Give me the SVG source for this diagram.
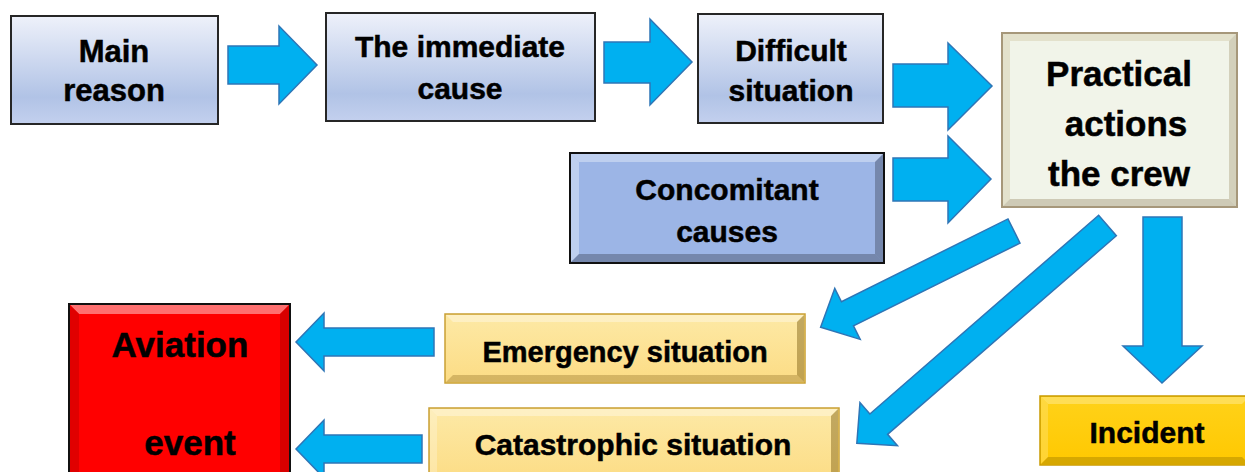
<svg xmlns="http://www.w3.org/2000/svg" width="1245" height="472" viewBox="0 0 1245 472">
  <defs>
    <linearGradient id="gBlue" x1="0" y1="0" x2="0" y2="1">
      <stop offset="0" stop-color="#eef1fa"/>
      <stop offset="0.75" stop-color="#b1c3e6"/>
      <stop offset="1" stop-color="#c3d0ee"/>
    </linearGradient>
    <linearGradient id="gGold" x1="0" y1="0" x2="0" y2="1">
      <stop offset="0" stop-color="#fde9a6"/>
      <stop offset="1" stop-color="#fcdc84"/>
    </linearGradient>
    <linearGradient id="gYellow" x1="0" y1="0" x2="0" y2="1">
      <stop offset="0" stop-color="#ffd21a"/>
      <stop offset="1" stop-color="#ffc800"/>
    </linearGradient>
  </defs>
  <style>
    .t { font-family: "Liberation Sans", Arial, sans-serif; font-weight: bold; fill: #000; stroke: #000; stroke-width: 0.5; text-anchor: middle; }
    .arrow { fill: #00b0f0; stroke: #2e75b6; stroke-width: 1.5; stroke-linejoin: miter; }
    .plain { stroke: #262626; stroke-width: 2; }
    .hi { fill: #ffffff; opacity: 0.35; }
    .lo { fill: #000000; opacity: 0.25; }
  </style>

  <!-- top row: plain boxes -->
  <g id="main-reason">
    <rect x="11" y="16" width="207" height="108" fill="url(#gBlue)" class="plain"/>
    <text class="t" font-size="31" x="114" y="62">Main</text>
    <text class="t" font-size="31" x="114" y="101">reason</text>
  </g>
  <g id="immediate-cause">
    <rect x="326" y="13" width="269" height="108" fill="url(#gBlue)" class="plain"/>
    <text class="t" font-size="30" x="460" y="57">The immediate</text>
    <text class="t" font-size="30" x="460" y="99">cause</text>
  </g>
  <g id="difficult-situation">
    <rect x="698" y="14" width="185" height="109" fill="url(#gBlue)" class="plain"/>
    <text class="t" font-size="30" x="791" y="61">Difficult</text>
    <text class="t" font-size="30" x="791" y="101">situation</text>
  </g>

  <!-- bevelled boxes -->
  <g id="practical-actions">
    <rect x="1002" y="33" width="235" height="174" fill="#f1f4e9" stroke="#a6977a" stroke-width="2"/>
    <polygon fill="#c8bc98" opacity="0.35" points="1003,34 1236,34 1229,41 1010,41"/>
    <polygon fill="#c8bc98" opacity="0.35" points="1003,34 1010,41 1010,199 1003,206"/>
    <polygon fill="#9c8c68" opacity="0.35" points="1236,34 1236,206 1229,199 1229,41"/>
    <polygon fill="#9c8c68" opacity="0.4" points="1003,206 1236,206 1229,199 1010,199"/>
    <text class="t" font-size="35" x="1119" y="86">Practical</text>
    <text class="t" font-size="35" x="1126" y="136">actions</text>
    <text class="t" font-size="35" x="1119" y="186">the crew</text>
  </g>
  <g id="concomitant-causes">
    <rect x="570" y="153" width="314" height="110" fill="#9cb5e6" stroke="#111" stroke-width="2"/>
    <polygon class="hi" points="571,154 883,154 875,162 579,162"/>
    <polygon class="hi" opacity="0.2" points="571,154 579,162 579,254 571,262"/>
    <polygon class="lo" opacity="0.35" points="883,154 883,262 875,254 875,162"/>
    <polygon class="lo" opacity="0.35" points="571,262 883,262 875,254 579,254"/>
    <text class="t" font-size="30" x="727" y="200">Concomitant</text>
    <text class="t" font-size="30" x="727" y="242">causes</text>
  </g>
  <g id="aviation-event">
    <rect x="69" y="304" width="221" height="180" fill="#ff0000" stroke="#111" stroke-width="2"/>
    <polygon fill="#ff7070" points="70,305 289,305 280,314 79,314"/>
    <polygon fill="#c00000" opacity="0.6" points="289,305 289,483 280,474 280,314"/>
    <polygon fill="#e00000" points="70,305 79,314 79,474 70,483"/>
    <text class="t" font-size="35" x="180" y="357">Aviation</text>
    <text class="t" font-size="35" x="190" y="455">event</text>
  </g>
  <g id="emergency-situation">
    <rect x="445" y="314" width="360" height="69" fill="url(#gGold)" stroke="#c9a035" stroke-width="1.5"/>
    <polygon class="hi" points="446,315 804,315 797,322 453,322"/>
    <polygon fill="#7a5a10" opacity="0.45" points="804,315 804,382 797,375 797,322"/>
    <polygon fill="#7a5a10" opacity="0.3" points="446,382 804,382 797,375 453,375"/>
    <text class="t" font-size="29" x="625" y="362">Emergency situation</text>
  </g>
  <g id="catastrophic-situation">
    <rect x="429" y="408" width="410" height="75" fill="url(#gGold)" stroke="#c9a035" stroke-width="1.5"/>
    <polygon class="hi" points="430,409 838,409 831,416 437,416"/>
    <polygon fill="#ffffff" opacity="0.25" points="430,409 437,416 437,482 430,482"/>
    <polygon fill="#7a5a10" opacity="0.45" points="838,409 838,482 831,482 831,416"/>
    <text class="t" font-size="30" x="633" y="455">Catastrophic situation</text>
  </g>
  <g id="incident">
    <rect x="1040" y="396" width="210" height="69" fill="url(#gYellow)" stroke="#c99a00" stroke-width="1.5"/>
    <polygon fill="#ffe680" opacity="0.6" points="1041,397 1249,397 1242,404 1048,404"/>
    <polygon fill="#ffe066" opacity="0.5" points="1041,397 1048,404 1048,457 1041,464"/>
    <polygon fill="#8a6a00" opacity="0.35" points="1041,464 1249,464 1242,457 1048,457"/>
    <text class="t" font-size="30" x="1147" y="443">Incident</text>
  </g>

  <!-- connectors: block arrows -->
  <g id="connectors">
    <polygon class="arrow" points="228,46 279,46 279,26 317,65 279,104 279,84 228,84"/>
    <polygon class="arrow" points="604,42 650,42 650,19 692,62 650,105 650,83 604,83"/>
    <polygon class="arrow" points="893,64 948,64 948,43 992,86 948,130 948,107 893,107"/>
    <polygon class="arrow" points="893,158 948,158 948,136 991,179 948,223 948,201 893,201"/>
    <!-- diagonal arrows from the crew box -->
    <polygon class="arrow" transform="translate(1014,231) rotate(153.55)" points="0,-13.5 186,-13.5 186,-28.5 216,0 186,28.5 186,13.5 0,13.5"/>
    <polygon class="arrow" transform="translate(1107.5,225.5) rotate(139.03)" points="0,-13.5 303,-13.5 303,-28.6 332,0 303,28.6 303,13.5 0,13.5"/>
    <!-- downward arrow to the incident box -->
    <polygon class="arrow" points="1143,217 1182,217 1182,346 1202,346 1162,383 1123,346 1143,346"/>
    <!-- arrows into the aviation event box -->
    <polygon class="arrow" points="434,328 324,328 324,313 296,342 324,371 324,356 434,356"/>
    <polygon class="arrow" points="422,435 324,435 324,420 296,449 324,478 324,463 422,463"/>
  </g>
</svg>
